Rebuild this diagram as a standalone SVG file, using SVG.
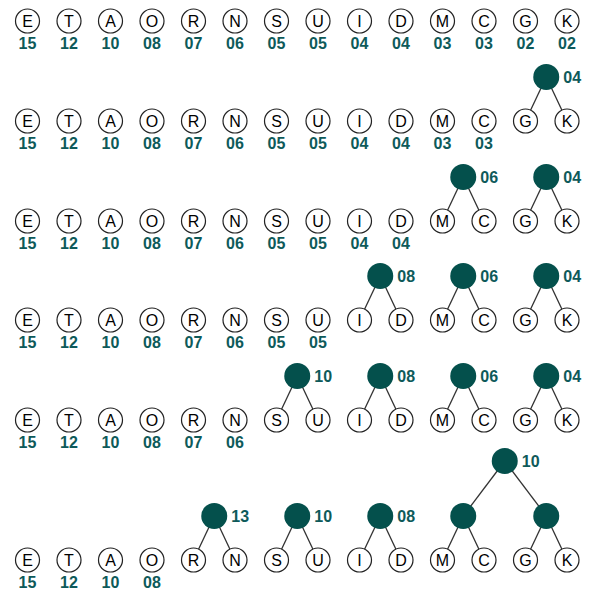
<svg xmlns="http://www.w3.org/2000/svg" width="595" height="600" viewBox="0 0 595 600">
<style>
.lf circle{fill:#fff;stroke:#222;stroke-width:1.2}
.lf text.l{font-family:"Liberation Sans",Arial,sans-serif;font-size:16px;fill:#000;text-anchor:middle}
text.n{font-family:"Liberation Sans",Arial,sans-serif;font-size:16px;font-weight:bold;fill:#0e5a5a;text-anchor:middle}
.in circle{fill:#04504c}
.in text{font-family:"Liberation Sans",Arial,sans-serif;font-size:16px;font-weight:bold;fill:#0e5a5a}
.edges line{stroke:#333;stroke-width:1.3}
</style>
<rect width="595" height="600" fill="#fff"/>
<g class="edges">
<line x1="546.25" y1="77" x2="525.5" y2="121"/><line x1="546.25" y1="77" x2="567" y2="121"/>
<line x1="463.25" y1="177" x2="442.5" y2="221"/><line x1="463.25" y1="177" x2="484" y2="221"/>
<line x1="546.25" y1="177" x2="525.5" y2="221"/><line x1="546.25" y1="177" x2="567" y2="221"/>
<line x1="380.25" y1="276" x2="359.5" y2="320"/><line x1="380.25" y1="276" x2="401" y2="320"/>
<line x1="463.25" y1="276" x2="442.5" y2="320"/><line x1="463.25" y1="276" x2="484" y2="320"/>
<line x1="546.25" y1="276" x2="525.5" y2="320"/><line x1="546.25" y1="276" x2="567" y2="320"/>
<line x1="297.25" y1="376" x2="276.5" y2="420"/><line x1="297.25" y1="376" x2="318" y2="420"/>
<line x1="380.25" y1="376" x2="359.5" y2="420"/><line x1="380.25" y1="376" x2="401" y2="420"/>
<line x1="463.25" y1="376" x2="442.5" y2="420"/><line x1="463.25" y1="376" x2="484" y2="420"/>
<line x1="546.25" y1="376" x2="525.5" y2="420"/><line x1="546.25" y1="376" x2="567" y2="420"/>
<line x1="214.25" y1="516" x2="193.5" y2="560"/><line x1="214.25" y1="516" x2="235" y2="560"/>
<line x1="297.25" y1="516" x2="276.5" y2="560"/><line x1="297.25" y1="516" x2="318" y2="560"/>
<line x1="380.25" y1="516" x2="359.5" y2="560"/><line x1="380.25" y1="516" x2="401" y2="560"/>
<line x1="463.25" y1="516" x2="442.5" y2="560"/><line x1="463.25" y1="516" x2="484" y2="560"/>
<line x1="546.25" y1="516" x2="525.5" y2="560"/><line x1="546.25" y1="516" x2="567" y2="560"/>
<line x1="504.75" y1="461" x2="463.25" y2="516"/><line x1="504.75" y1="461" x2="546.25" y2="516"/>
</g>

<!-- Row 1 -->
<g id="r1-E" class="lf" transform="translate(27.5,21)"><circle r="12"/><text class="l" y="5.7">E</text><text class="n" y="28">15</text></g>
<g id="r1-T" class="lf" transform="translate(69,21)"><circle r="12"/><text class="l" y="5.7">T</text><text class="n" y="28">12</text></g>
<g id="r1-A" class="lf" transform="translate(110.5,21)"><circle r="12"/><text class="l" y="5.7">A</text><text class="n" y="28">10</text></g>
<g id="r1-O" class="lf" transform="translate(152,21)"><circle r="12"/><text class="l" y="5.7">O</text><text class="n" y="28">08</text></g>
<g id="r1-R" class="lf" transform="translate(193.5,21)"><circle r="12"/><text class="l" y="5.7">R</text><text class="n" y="28">07</text></g>
<g id="r1-N" class="lf" transform="translate(235,21)"><circle r="12"/><text class="l" y="5.7">N</text><text class="n" y="28">06</text></g>
<g id="r1-S" class="lf" transform="translate(276.5,21)"><circle r="12"/><text class="l" y="5.7">S</text><text class="n" y="28">05</text></g>
<g id="r1-U" class="lf" transform="translate(318,21)"><circle r="12"/><text class="l" y="5.7">U</text><text class="n" y="28">05</text></g>
<g id="r1-I" class="lf" transform="translate(359.5,21)"><circle r="12"/><text class="l" y="5.7">I</text><text class="n" y="28">04</text></g>
<g id="r1-D" class="lf" transform="translate(401,21)"><circle r="12"/><text class="l" y="5.7">D</text><text class="n" y="28">04</text></g>
<g id="r1-M" class="lf" transform="translate(442.5,21)"><circle r="12"/><text class="l" y="5.7">M</text><text class="n" y="28">03</text></g>
<g id="r1-C" class="lf" transform="translate(484,21)"><circle r="12"/><text class="l" y="5.7">C</text><text class="n" y="28">03</text></g>
<g id="r1-G" class="lf" transform="translate(525.5,21)"><circle r="12"/><text class="l" y="5.7">G</text><text class="n" y="28">02</text></g>
<g id="r1-K" class="lf" transform="translate(567,21)"><circle r="12"/><text class="l" y="5.7">K</text><text class="n" y="28">02</text></g>

<!-- Row 2 -->
<g id="r2-E" class="lf" transform="translate(27.5,121)"><circle r="12"/><text class="l" y="5.7">E</text><text class="n" y="28">15</text></g>
<g id="r2-T" class="lf" transform="translate(69,121)"><circle r="12"/><text class="l" y="5.7">T</text><text class="n" y="28">12</text></g>
<g id="r2-A" class="lf" transform="translate(110.5,121)"><circle r="12"/><text class="l" y="5.7">A</text><text class="n" y="28">10</text></g>
<g id="r2-O" class="lf" transform="translate(152,121)"><circle r="12"/><text class="l" y="5.7">O</text><text class="n" y="28">08</text></g>
<g id="r2-R" class="lf" transform="translate(193.5,121)"><circle r="12"/><text class="l" y="5.7">R</text><text class="n" y="28">07</text></g>
<g id="r2-N" class="lf" transform="translate(235,121)"><circle r="12"/><text class="l" y="5.7">N</text><text class="n" y="28">06</text></g>
<g id="r2-S" class="lf" transform="translate(276.5,121)"><circle r="12"/><text class="l" y="5.7">S</text><text class="n" y="28">05</text></g>
<g id="r2-U" class="lf" transform="translate(318,121)"><circle r="12"/><text class="l" y="5.7">U</text><text class="n" y="28">05</text></g>
<g id="r2-I" class="lf" transform="translate(359.5,121)"><circle r="12"/><text class="l" y="5.7">I</text><text class="n" y="28">04</text></g>
<g id="r2-D" class="lf" transform="translate(401,121)"><circle r="12"/><text class="l" y="5.7">D</text><text class="n" y="28">04</text></g>
<g id="r2-M" class="lf" transform="translate(442.5,121)"><circle r="12"/><text class="l" y="5.7">M</text><text class="n" y="28">03</text></g>
<g id="r2-C" class="lf" transform="translate(484,121)"><circle r="12"/><text class="l" y="5.7">C</text><text class="n" y="28">03</text></g>
<g id="r2-G" class="lf" transform="translate(525.5,121)"><circle r="12"/><text class="l" y="5.7">G</text></g>
<g id="r2-K" class="lf" transform="translate(567,121)"><circle r="12"/><text class="l" y="5.7">K</text></g>
<g id="r2-GK" class="in" transform="translate(546.25,77)"><circle r="13"/><text x="17" y="6">04</text></g>

<!-- Row 3 -->
<g id="r3-E" class="lf" transform="translate(27.5,221)"><circle r="12"/><text class="l" y="5.7">E</text><text class="n" y="28">15</text></g>
<g id="r3-T" class="lf" transform="translate(69,221)"><circle r="12"/><text class="l" y="5.7">T</text><text class="n" y="28">12</text></g>
<g id="r3-A" class="lf" transform="translate(110.5,221)"><circle r="12"/><text class="l" y="5.7">A</text><text class="n" y="28">10</text></g>
<g id="r3-O" class="lf" transform="translate(152,221)"><circle r="12"/><text class="l" y="5.7">O</text><text class="n" y="28">08</text></g>
<g id="r3-R" class="lf" transform="translate(193.5,221)"><circle r="12"/><text class="l" y="5.7">R</text><text class="n" y="28">07</text></g>
<g id="r3-N" class="lf" transform="translate(235,221)"><circle r="12"/><text class="l" y="5.7">N</text><text class="n" y="28">06</text></g>
<g id="r3-S" class="lf" transform="translate(276.5,221)"><circle r="12"/><text class="l" y="5.7">S</text><text class="n" y="28">05</text></g>
<g id="r3-U" class="lf" transform="translate(318,221)"><circle r="12"/><text class="l" y="5.7">U</text><text class="n" y="28">05</text></g>
<g id="r3-I" class="lf" transform="translate(359.5,221)"><circle r="12"/><text class="l" y="5.7">I</text><text class="n" y="28">04</text></g>
<g id="r3-D" class="lf" transform="translate(401,221)"><circle r="12"/><text class="l" y="5.7">D</text><text class="n" y="28">04</text></g>
<g id="r3-M" class="lf" transform="translate(442.5,221)"><circle r="12"/><text class="l" y="5.7">M</text></g>
<g id="r3-C" class="lf" transform="translate(484,221)"><circle r="12"/><text class="l" y="5.7">C</text></g>
<g id="r3-G" class="lf" transform="translate(525.5,221)"><circle r="12"/><text class="l" y="5.7">G</text></g>
<g id="r3-K" class="lf" transform="translate(567,221)"><circle r="12"/><text class="l" y="5.7">K</text></g>
<g id="r3-MC" class="in" transform="translate(463.25,177)"><circle r="13"/><text x="17" y="6">06</text></g>
<g id="r3-GK" class="in" transform="translate(546.25,177)"><circle r="13"/><text x="17" y="6">04</text></g>

<!-- Row 4 -->
<g id="r4-E" class="lf" transform="translate(27.5,320)"><circle r="12"/><text class="l" y="5.7">E</text><text class="n" y="28">15</text></g>
<g id="r4-T" class="lf" transform="translate(69,320)"><circle r="12"/><text class="l" y="5.7">T</text><text class="n" y="28">12</text></g>
<g id="r4-A" class="lf" transform="translate(110.5,320)"><circle r="12"/><text class="l" y="5.7">A</text><text class="n" y="28">10</text></g>
<g id="r4-O" class="lf" transform="translate(152,320)"><circle r="12"/><text class="l" y="5.7">O</text><text class="n" y="28">08</text></g>
<g id="r4-R" class="lf" transform="translate(193.5,320)"><circle r="12"/><text class="l" y="5.7">R</text><text class="n" y="28">07</text></g>
<g id="r4-N" class="lf" transform="translate(235,320)"><circle r="12"/><text class="l" y="5.7">N</text><text class="n" y="28">06</text></g>
<g id="r4-S" class="lf" transform="translate(276.5,320)"><circle r="12"/><text class="l" y="5.7">S</text><text class="n" y="28">05</text></g>
<g id="r4-U" class="lf" transform="translate(318,320)"><circle r="12"/><text class="l" y="5.7">U</text><text class="n" y="28">05</text></g>
<g id="r4-I" class="lf" transform="translate(359.5,320)"><circle r="12"/><text class="l" y="5.7">I</text></g>
<g id="r4-D" class="lf" transform="translate(401,320)"><circle r="12"/><text class="l" y="5.7">D</text></g>
<g id="r4-M" class="lf" transform="translate(442.5,320)"><circle r="12"/><text class="l" y="5.7">M</text></g>
<g id="r4-C" class="lf" transform="translate(484,320)"><circle r="12"/><text class="l" y="5.7">C</text></g>
<g id="r4-G" class="lf" transform="translate(525.5,320)"><circle r="12"/><text class="l" y="5.7">G</text></g>
<g id="r4-K" class="lf" transform="translate(567,320)"><circle r="12"/><text class="l" y="5.7">K</text></g>
<g id="r4-ID" class="in" transform="translate(380.25,276)"><circle r="13"/><text x="17" y="6">08</text></g>
<g id="r4-MC" class="in" transform="translate(463.25,276)"><circle r="13"/><text x="17" y="6">06</text></g>
<g id="r4-GK" class="in" transform="translate(546.25,276)"><circle r="13"/><text x="17" y="6">04</text></g>

<!-- Row 5 -->
<g id="r5-E" class="lf" transform="translate(27.5,420)"><circle r="12"/><text class="l" y="5.7">E</text><text class="n" y="28">15</text></g>
<g id="r5-T" class="lf" transform="translate(69,420)"><circle r="12"/><text class="l" y="5.7">T</text><text class="n" y="28">12</text></g>
<g id="r5-A" class="lf" transform="translate(110.5,420)"><circle r="12"/><text class="l" y="5.7">A</text><text class="n" y="28">10</text></g>
<g id="r5-O" class="lf" transform="translate(152,420)"><circle r="12"/><text class="l" y="5.7">O</text><text class="n" y="28">08</text></g>
<g id="r5-R" class="lf" transform="translate(193.5,420)"><circle r="12"/><text class="l" y="5.7">R</text><text class="n" y="28">07</text></g>
<g id="r5-N" class="lf" transform="translate(235,420)"><circle r="12"/><text class="l" y="5.7">N</text><text class="n" y="28">06</text></g>
<g id="r5-S" class="lf" transform="translate(276.5,420)"><circle r="12"/><text class="l" y="5.7">S</text></g>
<g id="r5-U" class="lf" transform="translate(318,420)"><circle r="12"/><text class="l" y="5.7">U</text></g>
<g id="r5-I" class="lf" transform="translate(359.5,420)"><circle r="12"/><text class="l" y="5.7">I</text></g>
<g id="r5-D" class="lf" transform="translate(401,420)"><circle r="12"/><text class="l" y="5.7">D</text></g>
<g id="r5-M" class="lf" transform="translate(442.5,420)"><circle r="12"/><text class="l" y="5.7">M</text></g>
<g id="r5-C" class="lf" transform="translate(484,420)"><circle r="12"/><text class="l" y="5.7">C</text></g>
<g id="r5-G" class="lf" transform="translate(525.5,420)"><circle r="12"/><text class="l" y="5.7">G</text></g>
<g id="r5-K" class="lf" transform="translate(567,420)"><circle r="12"/><text class="l" y="5.7">K</text></g>
<g id="r5-SU" class="in" transform="translate(297.25,376)"><circle r="13"/><text x="17" y="6">10</text></g>
<g id="r5-ID" class="in" transform="translate(380.25,376)"><circle r="13"/><text x="17" y="6">08</text></g>
<g id="r5-MC" class="in" transform="translate(463.25,376)"><circle r="13"/><text x="17" y="6">06</text></g>
<g id="r5-GK" class="in" transform="translate(546.25,376)"><circle r="13"/><text x="17" y="6">04</text></g>

<!-- Row 6 -->
<g id="r6-E" class="lf" transform="translate(27.5,560)"><circle r="12"/><text class="l" y="5.7">E</text><text class="n" y="28">15</text></g>
<g id="r6-T" class="lf" transform="translate(69,560)"><circle r="12"/><text class="l" y="5.7">T</text><text class="n" y="28">12</text></g>
<g id="r6-A" class="lf" transform="translate(110.5,560)"><circle r="12"/><text class="l" y="5.7">A</text><text class="n" y="28">10</text></g>
<g id="r6-O" class="lf" transform="translate(152,560)"><circle r="12"/><text class="l" y="5.7">O</text><text class="n" y="28">08</text></g>
<g id="r6-R" class="lf" transform="translate(193.5,560)"><circle r="12"/><text class="l" y="5.7">R</text></g>
<g id="r6-N" class="lf" transform="translate(235,560)"><circle r="12"/><text class="l" y="5.7">N</text></g>
<g id="r6-S" class="lf" transform="translate(276.5,560)"><circle r="12"/><text class="l" y="5.7">S</text></g>
<g id="r6-U" class="lf" transform="translate(318,560)"><circle r="12"/><text class="l" y="5.7">U</text></g>
<g id="r6-I" class="lf" transform="translate(359.5,560)"><circle r="12"/><text class="l" y="5.7">I</text></g>
<g id="r6-D" class="lf" transform="translate(401,560)"><circle r="12"/><text class="l" y="5.7">D</text></g>
<g id="r6-M" class="lf" transform="translate(442.5,560)"><circle r="12"/><text class="l" y="5.7">M</text></g>
<g id="r6-C" class="lf" transform="translate(484,560)"><circle r="12"/><text class="l" y="5.7">C</text></g>
<g id="r6-G" class="lf" transform="translate(525.5,560)"><circle r="12"/><text class="l" y="5.7">G</text></g>
<g id="r6-K" class="lf" transform="translate(567,560)"><circle r="12"/><text class="l" y="5.7">K</text></g>
<g id="r6-RN" class="in" transform="translate(214.25,516)"><circle r="13"/><text x="17" y="6">13</text></g>
<g id="r6-SU" class="in" transform="translate(297.25,516)"><circle r="13"/><text x="17" y="6">10</text></g>
<g id="r6-ID" class="in" transform="translate(380.25,516)"><circle r="13"/><text x="17" y="6">08</text></g>
<g id="r6-MC" class="in" transform="translate(463.25,516)"><circle r="13"/></g>
<g id="r6-GK" class="in" transform="translate(546.25,516)"><circle r="13"/></g>
<g id="r6-MCGK" class="in" transform="translate(504.75,461)"><circle r="13"/><text x="17" y="6">10</text></g>
</svg>
